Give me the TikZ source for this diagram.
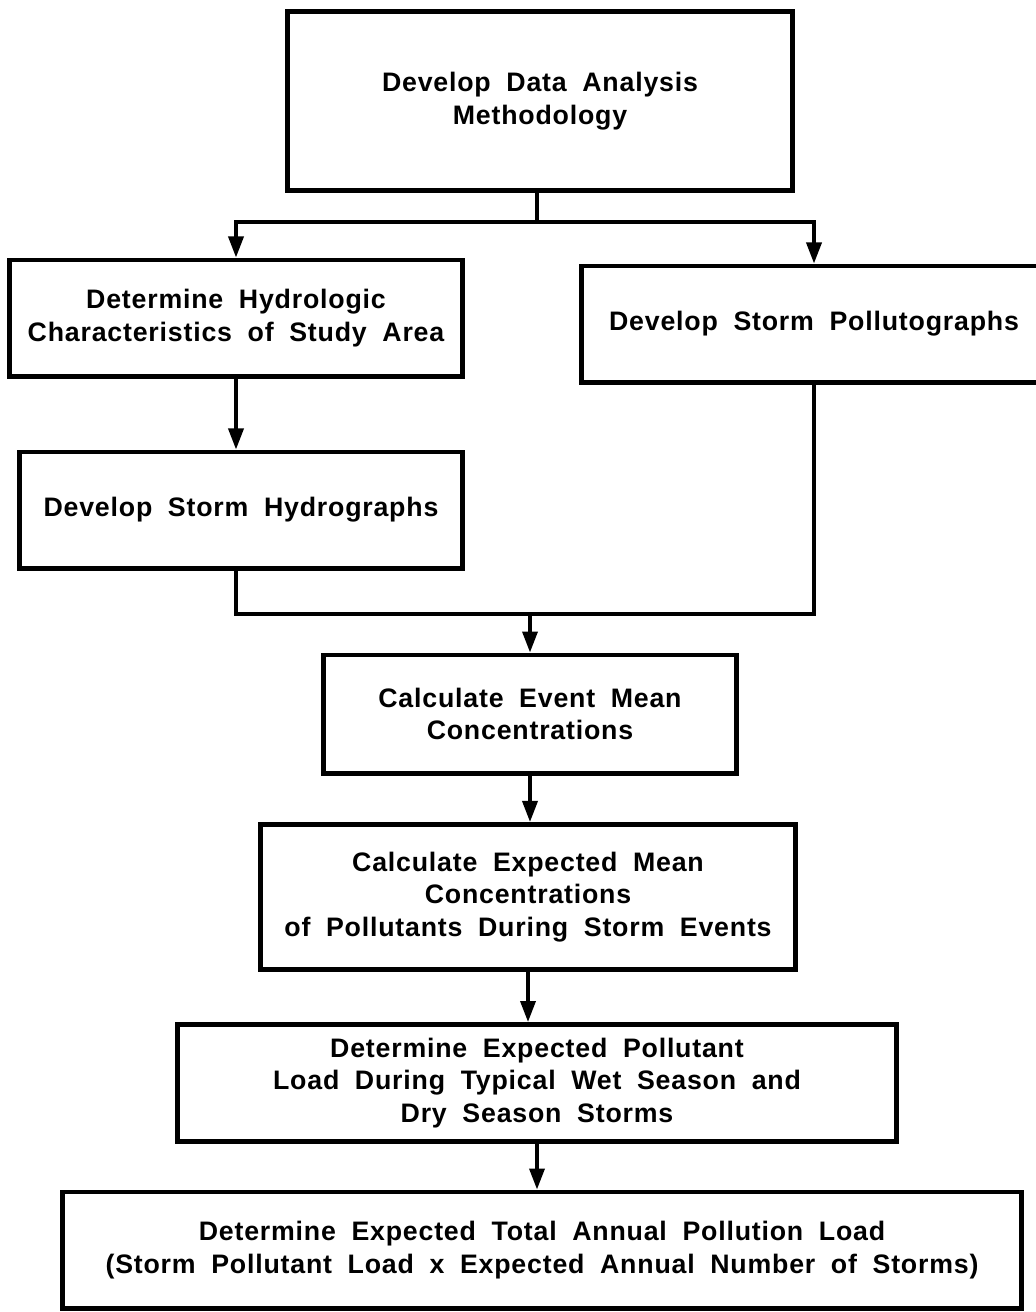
\documentclass[tikz,border=0pt]{standalone}
\usepackage{fontspec}
\setmainfont{Liberation Sans}[WordSpace=1.9,LetterSpace=3]
\usetikzlibrary{positioning}
\usetikzlibrary{arrows.meta}

\begin{document}
\begin{tikzpicture}[x=0.01cm,y=-0.01cm,
  box/.style={draw,line width=1.4pt,align=center,inner sep=0pt,
    font=\fontsize{7.6pt}{9.2pt}\selectfont\bfseries},
  link/.style={line width=1pt},
  flow/.style={link,-{Triangle[length=0.21cm,width=0.15cm]}}]
 \useasboundingbox (0,0) rectangle (1035,1312);
 \node[box,minimum width=5.04cm,minimum height=1.78cm] (method) at (540,101)
   {Develop Data Analysis\\Methodology};
 \node[box,minimum width=4.53cm,minimum height=1.16cm] (hydrologic) at (236,318)
   {Determine Hydrologic\\Characteristics of Study Area};
 \node[box,minimum width=4.64cm,minimum height=1.16cm] (polluto) at (814,324)
   {Develop Storm Pollutographs};
 \node[box,minimum width=4.42cm,minimum height=1.16cm] (hydrograph) at (241,510)
   {Develop Storm Hydrographs};
 \node[box,minimum width=4.13cm,minimum height=1.18cm] (emc) at (530,714)
   {Calculate Event Mean\\Concentrations};
 \node[box,minimum width=5.35cm,minimum height=1.45cm] (expmean) at (528,897)
   {Calculate Expected Mean\\Concentrations\\of Pollutants During Storm Events};
 \node[box,minimum width=7.18cm,minimum height=1.17cm] (stormload) at (537,1083)
   {Determine Expected Pollutant\\Load During Typical Wet Season and\\Dry Season Storms};
 \node[box,minimum width=9.59cm,minimum height=1.16cm] (annualload) at (542,1250)
   {Determine Expected Total Annual Pollution Load\\(Storm Pollutant Load x Expected Annual Number of Storms)};
 \coordinate (fork) at (537,222);
 \coordinate (join) at (530,614);
 \draw[link] (method.south -| fork) -- (fork);
 \draw[flow] (fork) -| (hydrologic.north);
 \draw[flow] (fork) -| (polluto.north);
 \draw[flow] (hydrologic) -- (hydrologic |- hydrograph.north);
 \draw[link] (hydrologic |- hydrograph.south) |- (join) -| (polluto.south);
 \draw[flow] (join) -- (emc.north);
 \draw[flow] (emc) -- (emc |- expmean.north);
 \draw[flow] (expmean) -- (expmean |- stormload.north);
 \draw[flow] (stormload) -- (stormload |- annualload.north);
\end{tikzpicture}
\end{document}
